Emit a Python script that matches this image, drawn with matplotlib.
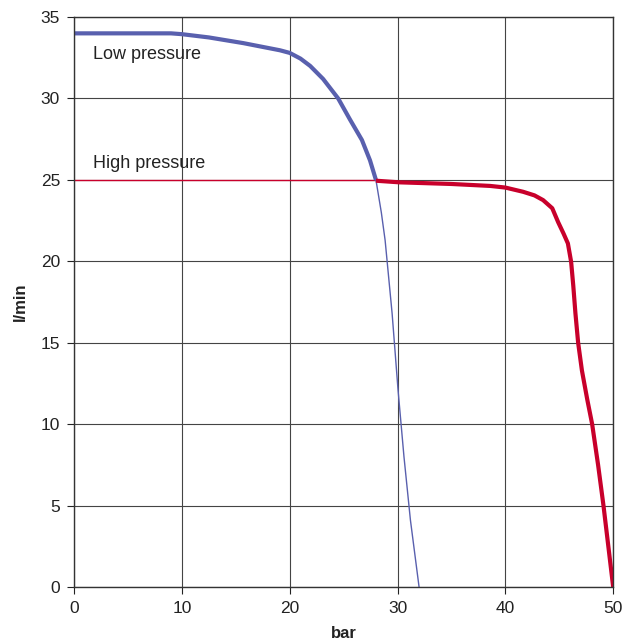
import matplotlib.pyplot as plt

plt.rcParams['font.family'] = ['Liberation Sans', 'DejaVu Sans']

# Low pressure curve (thick part, then thin tail)
low_x = [0, 9, 10, 12.5, 15.7, 19.1, 20, 21.0, 21.9, 23.1, 24.5, 25.6, 26.7, 27.45, 28.0]
low_y = [34, 34, 33.95, 33.75, 33.4, 32.96, 32.8, 32.45, 32.0, 31.2, 30.0, 28.7, 27.45, 26.2, 25.0]
low_tail_x = [28.0, 28.5, 28.85, 29.5, 30.05, 30.6, 31.2, 32.0]
low_tail_y = [25.0, 23.0, 21.3, 16.8, 12.1, 8.0, 4.1, 0]

# High pressure curve (thin start, then thick part)
high_start_x = [0, 28.0]
high_start_y = [25, 25]
high_x = [28.0, 30.2, 35, 38.6, 40, 41.65, 42.7, 43.5, 44.35, 44.9, 45.4, 45.8, 46.1,
          46.3, 46.5, 46.75, 47.1, 47.6, 48.05, 48.6, 49.1, 49.55, 50]
high_y = [24.95, 24.85, 24.75, 24.63, 24.53, 24.27, 24.05, 23.76, 23.26, 22.4, 21.7, 21.1, 19.97,
          18.5, 16.8, 15.0, 13.3, 11.5, 10.0, 7.5, 5.0, 2.5, 0]

xticks = [0, 10, 20, 30, 40, 50]
yticks = [0, 5, 10, 15, 20, 25, 30, 35]

blue = '#5960ae'
red = '#c8002b'

fig = plt.figure(figsize=(6.4, 6.44), dpi=100)
ax = fig.add_axes([0.1156, 0.0885, 0.8425, 0.885])

ax.plot(high_start_x, high_start_y, color=red, lw=1.0)
ax.plot(low_tail_x, low_tail_y, color=blue, lw=1.0)
ax.plot(low_x, low_y, color=blue, lw=3.0, solid_capstyle='butt', solid_joinstyle='round')
ax.plot(high_x, high_y, color=red, lw=3.0, solid_capstyle='butt', solid_joinstyle='round')

ax.text(1.8, 32.7, 'Low pressure', fontsize=13, color='#222222', va='center')
ax.text(1.8, 26.0, 'High pressure', fontsize=13, color='#222222', va='center')

ax.set_xlim(0, 50)
ax.set_ylim(0, 35)
ax.set_xticks(xticks)
ax.set_yticks(yticks)
ax.grid(True, color='#444444', lw=0.8)
ax.set_axisbelow(True)
for s in ax.spines.values():
    s.set_color('#333333')
    s.set_linewidth(1.0)
ax.tick_params(labelsize=12.5, colors='#222222', length=5, direction='out', pad=5)

ax.set_xlabel('bar', fontsize=12, fontweight='bold', color='#222222', labelpad=7)
ax.set_ylabel('l/min', fontsize=12, fontweight='bold', color='#222222', labelpad=9)

fig.savefig('out.png', dpi=100)
